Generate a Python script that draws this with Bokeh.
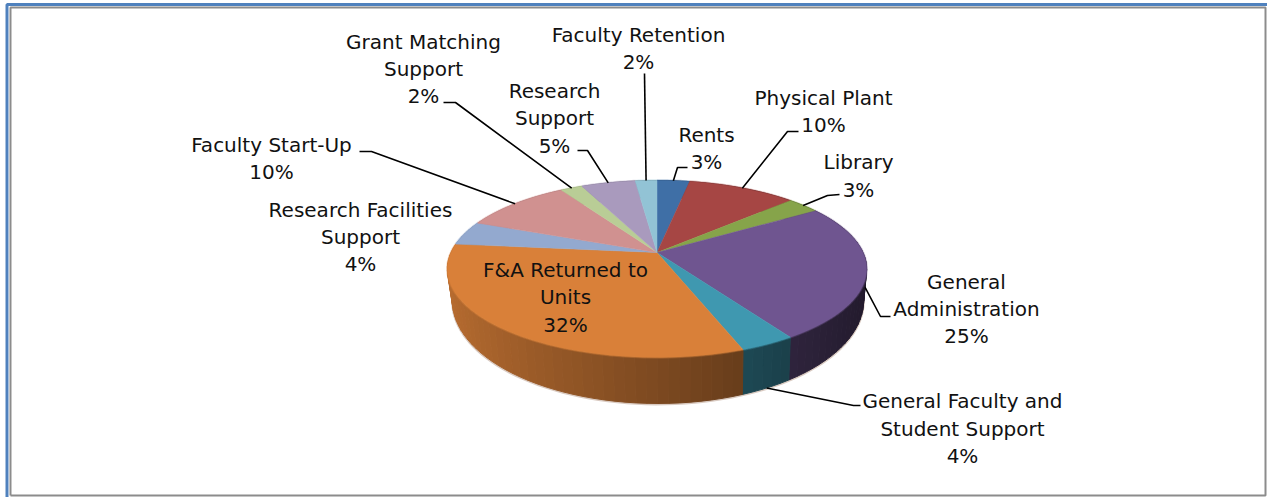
import math
from bokeh.plotting import figure
from bokeh.embed import file_html
from bokeh.resources import INLINE
from bokeh.core.properties import value

# ---- chart data ----
names = ["Rents", "Physical Plant", "Library", "General Administration",
         "General Faculty and Student Support", "F&A Returned to Units",
         "Research Facilities Support", "Faculty Start-Up", "Grant Matching Support",
         "Research Support", "Faculty Retention"]
shares = [3.0, 10.0, 3.0, 24.8, 3.6, 32.2, 4.4, 10.0, 2.0, 5.0, 2.0]
pct_labels = ["3%", "10%", "3%", "25%", "4%", "32%", "4%", "10%", "2%", "5%", "2%"]
colors = ["#3f6fa6", "#a64644", "#86a44a", "#6f5590", "#3f98b0", "#d98039",
          "#93a9cf", "#d09190", "#b9cd96", "#a99abd", "#92c3d5"]

# wrapped label lines and their centre positions (layout)
label_lines = [
    ("Rents", 706, 134), ("3%", 706, 161),
    ("Physical Plant", 823, 97), ("10%", 823, 124),
    ("Library", 858, 161), ("3%", 858, 189),
    ("General", 966, 281), ("Administration", 966, 308), ("25%", 966, 335),
    ("General Faculty and", 962, 400), ("Student Support", 962, 428), ("4%", 962, 455),
    ("F&A Returned to", 565, 269), ("Units", 565, 296), ("32%", 565, 324),
    ("Research Facilities", 360, 209), ("Support", 360, 236), ("4%", 360, 263),
    ("Faculty Start-Up", 271, 144), ("10%", 271, 171),
    ("Grant Matching", 423, 41), ("Support", 423, 68), ("2%", 423, 95),
    ("Research", 554, 90), ("Support", 554, 117), ("5%", 554, 145),
    ("Faculty Retention", 638, 34), ("2%", 638, 61),
]
# leader polyline start points near the label, per slice index; t = position down the side wall
leaders = {
    0: ([(687, 167), (677, 167)], 0.0),
    1: ([(798, 131), (787, 131)], 0.0),
    2: ([(839, 194), (827, 195)], 0.0),
    3: ([(890, 316), (880, 316)], 0.5),
    4: ([(860, 405), (853, 405)], 1.0),
    7: ([(359, 151), (371, 151)], 0.0),
    8: ([(443, 102), (455, 102)], 0.0),
    9: ([(577, 150), (587, 150)], 0.0),
    10: ([(644, 73)], 0.0),
}

# ---- pie geometry ----
APEX_X, APEX_Y = 656.5, 252.0
A, B, K = 206.0, 85.4, 0.186
TOP_CX, TOP_CY, TOP_A, TOP_B = 655.5, 268.0, 210.0, 88.5
BOT_CX, BOT_CY, BOT_A, BOT_B = 656.5, 299.5, 206.0, 103.0


def top_rim(cum):
    th = 2 * math.pi * cum / sum(shares)
    u, s = math.sin(th), -math.cos(th)
    d = 1 - K * s
    return APEX_X + A * u / d, APEX_Y + B * s / d


def bottom_rim(cum):
    x, y = top_rim(cum)
    return (BOT_CX + (x - TOP_CX) / TOP_A * BOT_A,
            BOT_CY + (y - TOP_CY) / TOP_B * BOT_B)


def shade(hex_color, factor):
    r, g, b = (int(hex_color[i:i + 2], 16) for i in (1, 3, 5))
    return "#%02x%02x%02x" % (int(r * factor), int(g * factor), int(b * factor))


W, H = 1267, 497
p = figure(width=W, height=H, x_range=(0, W), y_range=(H, 0), output_backend="svg",
           toolbar_location=None, min_border=0, outline_line_color=None,
           background_fill_color="white", border_fill_color="white")
p.axis.visible = False
p.grid.visible = False
p.styles = {"position": "absolute", "left": "0px", "top": "0px"}

# frame
p.line([6.5, 6.5, 1267], [497, 4, 4], line_color="#4f81bd", line_width=3)
p.line([10, 10, 1265, 1265, 10], [495, 7, 7, 495, 495], line_color="#8c8c8c", line_width=2)

total = sum(shares)
# soft fuzzy fringe below the wall
fringe = [bottom_rim(total * (0.27 + 0.5 * i / 80)) for i in range(81)]
p.line([q[0] for q in fringe], [q[1] + 0.8 for q in fringe], line_color="#c9b4a6", line_width=2.2, line_alpha=0.7)

# side wall
xs, ys, cols = [], [], []
cum = 0.0
for share, col in zip(shares, colors):
    n = max(2, int(share / 0.7))
    for i in range(n):
        c0, c1 = cum + share * i / n, cum + share * (i + 1) / n
        x0, y0 = top_rim(c0)
        x1, y1 = top_rim(c1)
        x2, y2 = bottom_rim(c1)
        x3, y3 = bottom_rim(c0)
        xs.append([x0, x1, x2, x3])
        ys.append([y0, y1, y2, y3])
        u = math.sin(2 * math.pi * (c0 + c1) / 2 / total)
        cols.append(shade(col, 0.85 - 0.275 * (u + 1)))
    cum += share
p.patches(xs, ys, fill_color=cols, line_color=cols, line_width=1)

# top face
cum = 0.0
for share, col in zip(shares, colors):
    steps = [cum + share * i / 30 for i in range(31)]
    rim = [top_rim(c) for c in steps]
    p.line([r[0] for r in rim], [r[1] for r in rim], line_color=col, line_width=2.5, line_alpha=0.35)
    p.patch([APEX_X] + [r[0] for r in rim], [APEX_Y] + [r[1] for r in rim],
            fill_color=col, line_color=col, line_width=0.5)
    cum += share

# leaders
for idx, (pts, t) in leaders.items():
    mid = sum(shares[:idx]) + shares[idx] / 2
    tx, ty = top_rim(mid)
    bx, by = bottom_rim(mid)
    end = (tx + (bx - tx) * t, ty + (by - ty) * t)
    path = pts + [end]
    p.line([q[0] for q in path], [q[1] for q in path], line_color="#000000", line_width=1.6)

# labels
p.text(x=[l[1] for l in label_lines], y=[l[2] for l in label_lines], text=[l[0] for l in label_lines],
       text_font=value("DejaVu Sans"), text_font_size="20px", text_color="#111111",
       text_align="center", text_baseline="middle")

open("out.html", "w").write(file_html(p, INLINE))
